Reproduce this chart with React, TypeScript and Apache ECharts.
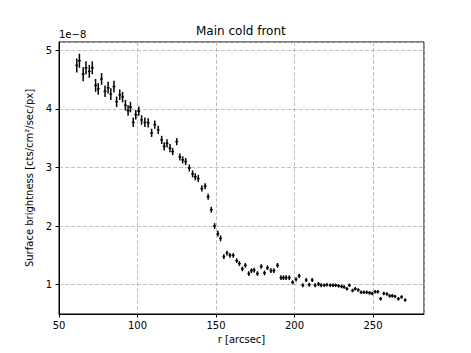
import React, { useEffect, useRef } from "react";
import * as echarts from "echarts";

// radius of each bin [arcsec]
const R = [
  61.3, 63.0, 65.4, 67.2, 69.3, 71.2, 73.3, 75.0, 77.1, 79.3,
  81.3, 83.0, 85.0, 86.7, 88.7, 90.5, 92.3, 94.0, 95.5, 97.3,
  98.9, 100.8, 102.6, 104.7, 106.8, 109.0, 111.0, 113.2, 115.4, 117.0,
  118.8, 120.7, 122.4, 125.0, 127.0, 128.8, 130.7, 133.0, 135.1, 136.8,
  138.7, 141.0, 143.1, 145.0, 147.0, 149.1, 151.2, 152.9, 155.0, 157.0,
  158.9, 161.0, 163.2, 164.9, 166.8, 168.7, 170.9, 172.6, 174.3, 176.4,
  178.8, 180.9, 182.8, 185.0, 186.9, 189.2, 191.4, 193.0, 194.7, 196.7,
  198.8, 201.0, 203.0, 205.3, 207.5, 209.4, 211.3, 213.2, 215.3, 217.0,
  219.0, 220.7, 222.8, 224.5, 226.2, 228.1, 230.0, 231.6, 233.4, 235.0,
  237.0, 238.7, 240.6, 242.4, 244.2, 246.0, 247.8, 249.5, 251.4, 253.1,
  254.9, 256.9, 258.9, 260.6, 262.3, 264.0, 266.2, 268.2, 270.5,
];

// surface brightness [1e-8 cts/cm^2/sec/px]
const SB = [
  4.74, 4.82, 4.59, 4.70, 4.64, 4.70, 4.40, 4.34, 4.51, 4.30,
  4.36, 4.25, 4.38, 4.12, 4.24, 4.20, 4.06, 3.97, 4.03, 3.77,
  3.90, 3.96, 3.81, 3.77, 3.76, 3.59, 3.73, 3.64, 3.47, 3.36,
  3.41, 3.33, 3.27, 3.44, 3.18, 3.13, 3.10, 2.99, 2.89, 2.84,
  2.81, 2.64, 2.68, 2.50, 2.28, 2.00, 1.87, 1.79, 1.48, 1.54,
  1.50, 1.50, 1.41, 1.36, 1.27, 1.33, 1.19, 1.24, 1.25, 1.19,
  1.31, 1.20, 1.29, 1.24, 1.24, 1.33, 1.12, 1.12, 1.12, 1.12,
  1.04, 1.09, 1.15, 0.99, 1.08, 1.00, 1.08, 0.99, 1.01, 0.99,
  0.99, 1.00, 0.99, 0.99, 0.99, 0.98, 0.97, 0.96, 0.93, 0.99,
  0.90, 0.93, 0.91, 0.87, 0.87, 0.87, 0.86, 0.85, 0.88, 0.88,
  0.76, 0.85, 0.84, 0.81, 0.81, 0.80, 0.76, 0.79, 0.74,
];

// 1-sigma errors on surface brightness
const SB_ERR = [
  0.12, 0.12, 0.12, 0.11, 0.11, 0.11, 0.11, 0.10, 0.10, 0.10,
  0.10, 0.10, 0.10, 0.09, 0.09, 0.09, 0.09, 0.09, 0.09, 0.08,
  0.08, 0.08, 0.08, 0.08, 0.08, 0.07, 0.07, 0.07, 0.07, 0.07,
  0.07, 0.07, 0.06, 0.06, 0.06, 0.06, 0.06, 0.06, 0.06, 0.06,
  0.06, 0.05, 0.05, 0.05, 0.05, 0.05, 0.05, 0.05, 0.04, 0.04,
  0.04, 0.04, 0.04, 0.04, 0.04, 0.04, 0.04, 0.04, 0.04, 0.04,
  0.04, 0.04, 0.04, 0.04, 0.04, 0.04, 0.04, 0.04, 0.04, 0.04,
  0.035, 0.035, 0.035, 0.035, 0.035, 0.035, 0.035, 0.035, 0.035, 0.035,
  0.03, 0.03, 0.03, 0.03, 0.03, 0.03, 0.03, 0.03, 0.03, 0.03,
  0.03, 0.03, 0.03, 0.03, 0.03, 0.03, 0.03, 0.03, 0.03, 0.03,
  0.03, 0.03, 0.03, 0.03, 0.03, 0.03, 0.03, 0.03, 0.03,
];

// half bin width [arcsec]
const R_ERR = 0.9;

const TITLE = "Main cold front";
const X_LABEL = "r [arcsec]";
const Y_LABEL = "Surface brightness [cts/cm²/sec/px]";
const OFFSET_TEXT = "1e\u22128";

const FONT = "DejaVu Sans";

export default function App() {
  const ref = useRef<HTMLDivElement>(null);

  useEffect(() => {
    if (!ref.current) return;
    const chart = echarts.init(ref.current, null, { renderer: "svg" });
    const data = R.map((r, i) => [r, SB[i], SB_ERR[i]]);

    chart.setOption({
      animation: false,
      backgroundColor: "#ffffff",
      title: {
        text: TITLE,
        left: 196,
        top: 25,
        padding: 0,
        textStyle: {
          fontFamily: FONT,
          fontSize: 12,
          fontWeight: "normal",
          color: "#000",
        },
      },
      graphic: [
        {
          type: "text",
          left: 59,
          top: 29,
          style: {
            text: OFFSET_TEXT,
            fontFamily: FONT,
            fontSize: 10,
            fill: "#000",
          },
        },
      ],
      grid: {
        left: 59,
        right: 47,
        top: 42,
        bottom: 39,
        show: true,
        borderColor: "#000",
        borderWidth: 1,
        backgroundColor: "transparent",
      },
      xAxis: {
        type: "value",
        min: 50,
        max: 282.5,
        interval: 50,
        name: X_LABEL,
        nameLocation: "middle",
        nameGap: 20,
        nameTextStyle: { fontFamily: FONT, fontSize: 10, color: "#000" },
        axisLine: { show: true, lineStyle: { color: "#000", width: 1 } },
        axisTick: { show: true, length: 3.5, lineStyle: { color: "#000" } },
        axisLabel: {
          fontFamily: FONT,
          fontSize: 10,
          color: "#000",
          margin: 6,
          showMaxLabel: false,
        },
        splitLine: {
          show: true,
          lineStyle: { color: "#b0b0b0", type: [4, 2], width: 0.8 },
        },
      },
      yAxis: {
        type: "value",
        min: 0.5,
        max: 5.14,
        name: Y_LABEL,
        nameLocation: "middle",
        nameGap: 19,
        nameRotate: 90,
        nameTextStyle: { fontFamily: FONT, fontSize: 10, color: "#000" },
        axisLine: { show: true, lineStyle: { color: "#000", width: 1 } },
        axisTick: { show: true, length: 3.5, lineStyle: { color: "#000" } },
        axisLabel: {
          fontFamily: FONT,
          fontSize: 10,
          color: "#000",
          margin: 7,
          showMinLabel: false,
          showMaxLabel: false,
        },
        splitLine: {
          show: true,
          lineStyle: { color: "#b0b0b0", type: [4, 2], width: 0.8 },
        },
      },
      series: [
        {
          type: "custom",
          data,
          encode: { x: 0, y: 1 },
          renderItem: (_params: any, api: any) => {
            const x = api.value(0);
            const y = api.value(1);
            const e = api.value(2);
            const top = api.coord([x, y + e]);
            const bot = api.coord([x, y - e]);
            const lft = api.coord([x - R_ERR, y]);
            const rgt = api.coord([x + R_ERR, y]);
            const style = { stroke: "#000", lineWidth: 1.5 };
            return {
              type: "group",
              children: [
                {
                  type: "line",
                  shape: { x1: top[0], y1: top[1], x2: bot[0], y2: bot[1] },
                  style,
                },
                {
                  type: "line",
                  shape: { x1: lft[0], y1: lft[1], x2: rgt[0], y2: rgt[1] },
                  style,
                },
              ],
            };
          },
        },
      ],
    });

    return () => chart.dispose();
  }, []);

  return (
    <div
      ref={ref}
      style={{
        position: "fixed",
        left: 0,
        top: 0,
        width: 471,
        height: 353,
        background: "#fff",
      }}
    />
  );
}
